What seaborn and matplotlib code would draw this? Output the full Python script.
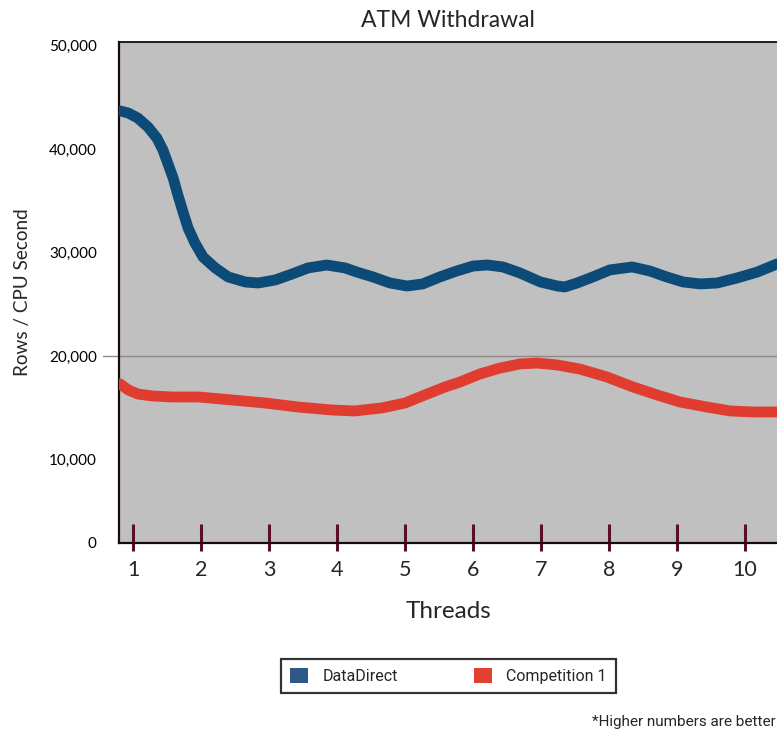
"""
ATM Withdrawal throughput chart: rows per CPU second vs. threads.
"""

import numpy as np
import pandas as pd
import matplotlib
matplotlib.use("Agg")
import matplotlib.pyplot as plt
from matplotlib.patches import Patch
from matplotlib.ticker import FixedLocator
import seaborn as sns

# ---------------------------------------------------------------------------
# Data
# ---------------------------------------------------------------------------

dd_threads = [0.81, 0.93, 1.07, 1.22, 1.35, 1.44, 1.51, 1.59, 1.66, 1.74, 1.81,
              1.91, 2.03, 2.21, 2.40, 2.65, 2.84, 3.09, 3.34, 3.57, 3.85, 4.12,
              4.29, 4.53, 4.78, 5.03, 5.26, 5.51, 5.76, 6.00, 6.21, 6.44, 6.69,
              6.99, 7.24, 7.35, 7.53, 7.76, 8.01, 8.34, 8.60, 8.85, 9.09, 9.34,
              9.59, 9.88, 10.18, 10.47]
dd_rows = [43670, 43470, 42990, 42120, 41060, 39900, 38640, 37190, 35550, 33810,
           32360, 30920, 29560, 28500, 27630, 27150, 27050, 27340, 27920, 28500,
           28790, 28500, 28110, 27630, 27050, 26760, 26960, 27630, 28210, 28690,
           28790, 28600, 28020, 27150, 26760, 26670, 27050, 27630, 28310, 28600,
           28210, 27630, 27150, 26960, 27050, 27530, 28110, 28890]

comp_threads = [0.81, 0.93, 1.07, 1.28, 1.57, 1.96, 2.46, 2.94, 3.43, 3.93, 4.26,
                4.66, 5.00, 5.29, 5.59, 5.81, 6.10, 6.40, 6.69, 6.94, 7.24, 7.57,
                7.97, 8.35, 8.71, 9.04, 9.44, 9.78, 10.12, 10.47]
comp_rows = [17300, 16720, 16330, 16140, 16040, 16040, 15750, 15460, 15070, 14780,
             14690, 14980, 15460, 16230, 17010, 17490, 18260, 18840, 19230, 19320,
             19130, 18740, 17970, 17010, 16230, 15560, 15070, 14690, 14590, 14590]

series_names = ["DataDirect", "Competition 1"]
thread_ticks = list(range(1, 11))
y_tick_values = [10000, 20000, 30000, 40000, 50000]
y_tick_labels = ["0", "10,000", "20,000", "30,000", "40,000", "50,000"]

LINE_COLORS = {"DataDirect": "#0c4a78", "Competition 1": "#e03c30"}
LEGEND_COLORS = {"DataDirect": "#2d5887", "Competition 1": "#e04133"}

# ---------------------------------------------------------------------------
# Build frame
# ---------------------------------------------------------------------------

df = pd.concat([
    pd.DataFrame({"threads": dd_threads, "rows": dd_rows, "series": series_names[0]}),
    pd.DataFrame({"threads": comp_threads, "rows": comp_rows, "series": series_names[1]}),
], ignore_index=True)

sns.set_theme(style="white")
plt.rcParams["font.family"] = ["Lato", "DejaVu Sans"]

fig = plt.figure(figsize=(7.77, 7.31), dpi=100)
ax = fig.add_axes([119 / 777, 1 - 543 / 731, 658 / 777, 501 / 731])
ax.set_facecolor("#c0c0c0")

sns.lineplot(data=df, x="threads", y="rows", hue="series", palette=LINE_COLORS,
             linewidth=7.8, ax=ax, legend=False, sort=True,
             solid_capstyle="round", solid_joinstyle="round", zorder=3)

ymin, ymax = 1935, 50330
ax.set_xlim(0.794, 10.47)
ax.set_ylim(ymin, ymax)

# single reference line at 20,000 poking out left of the axis
ax.axhline(20000, xmin=-16 / 658, xmax=1, color="#8a8a8a", lw=1.0,
           clip_on=False, zorder=1)

# y ticks: "0" sits at the bottom edge
ax.yaxis.set_major_locator(FixedLocator([ymin] + y_tick_values))
ax.set_yticklabels(y_tick_labels)
ax.tick_params(axis="y", length=0, pad=16, labelsize=11, colors="black")

# x ticks: maroon bars crossing the axis line
ax.xaxis.remove_overlapping_locs = False
ax.xaxis.set_major_locator(FixedLocator(thread_ticks))
ax.xaxis.set_minor_locator(FixedLocator(thread_ticks))
ax.set_xticklabels([str(t) for t in thread_ticks])
ax.tick_params(axis="x", which="major", direction="in", length=14, width=2.2,
               color="#5a0f25", pad=12, labelsize=15.5, bottom=True)
ax.tick_params(axis="x", which="minor", direction="out", length=6, width=2.2,
               color="#5a0f25", bottom=True)

for side in ["top", "left", "bottom"]:
    ax.spines[side].set_visible(True)
    ax.spines[side].set_color("#1a0a0a")
ax.spines["top"].set_linewidth(1.3)
ax.spines["left"].set_linewidth(1.6)
ax.spines["bottom"].set_linewidth(1.6)
ax.spines["right"].set_visible(False)

ax.set_title("ATM Withdrawal", fontsize=16.5, pad=11)
ax.set_xlabel("Threads", fontsize=17.5, labelpad=15)
ax.set_ylabel("Rows / CPU Second", fontsize=13.6, labelpad=13)

handles = [Patch(facecolor=LEGEND_COLORS[n], edgecolor="none", label=n) for n in series_names]
leg = fig.legend(handles=handles, loc="center", ncol=2,
                 bbox_to_anchor=(448.5 / 777, 1 - 676 / 731),
                 frameon=True, fancybox=False, edgecolor="black",
                 prop={"family": "Roboto", "size": 11.5},
                 handlelength=1.1, handleheight=1.1, columnspacing=4.8,
                 handletextpad=0.9, borderpad=0.55, borderaxespad=0)
leg.get_frame().set_linewidth(1.6)

fig.text(776 / 777, 1 - 722 / 731, "*Higher numbers are better", ha="right",
         va="center", fontsize=11, family="Roboto")

fig.savefig("out.png", dpi=100)
